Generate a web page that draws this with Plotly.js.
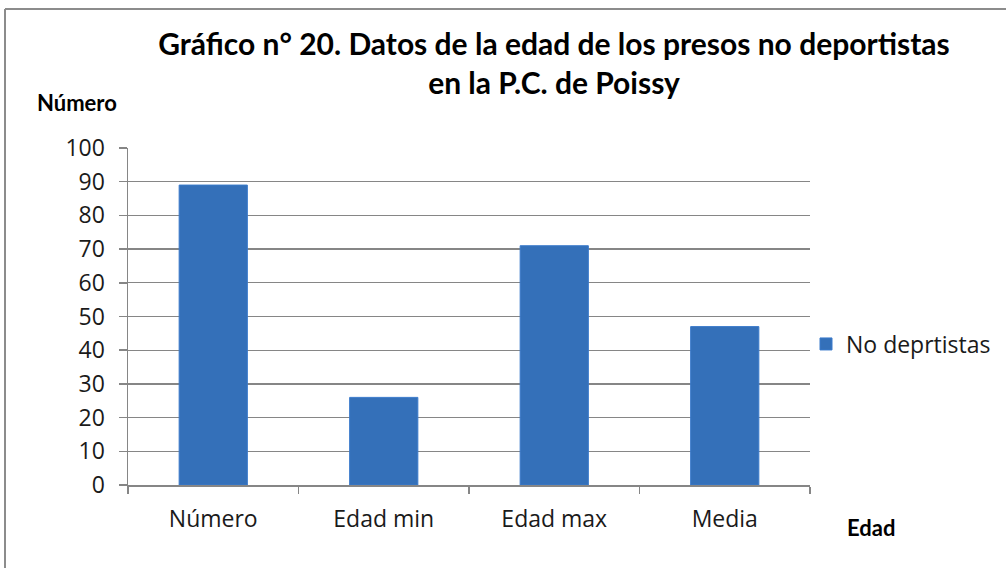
<!DOCTYPE html>
<html>
<head>
<meta charset="utf-8">
<script src="https://cdn.plot.ly/plotly-3.0.1.min.js"></script>
<style>html,body{margin:0;padding:0;background:#fff;}</style>
</head>
<body>
<div id="chart" style="width:1006px;height:568px;"></div>
<script>
const categories = ["Número", "Edad min", "Edad max", "Media"];
const values = [89, 26, 71, 47];
const seriesName = "No deprtistas";
const yTicks = [0, 10, 20, 30, 40, 50, 60, 70, 80, 90, 100];

const L = 128, R = 810, T = 148, B = 485, W = 1006, H = 568;
const pw = R - L, ph = B - T;
const px = x => (x - L) / pw;
const py = y => (B - y) / ph;

const gridCol = "#868686";
const tickFont = {family: "Open Sans, sans-serif", size: 23, color: "#1a1a1a"};

const trace = {
  type: "bar",
  x: categories,
  y: values,
  name: seriesName,
  width: 0.4,
  marker: {color: "#3470b9", line: {color: "#3a7acb", width: 1}},
  showlegend: true
};

const layout = {
  width: W, height: H,
  margin: {l: L, r: W - R, t: T, b: H - B, pad: 0},
  paper_bgcolor: "#ffffff",
  plot_bgcolor: "#ffffff",
  font: tickFont,
  title: {
    text: "Gráfico n° 20. Datos de la edad de los presos no deportistas<br>en la P.C. de Poissy",
    font: {family: "Lato, sans-serif", size: 30, color: "#000", weight: "bold"},
    x: 554 / W, xanchor: "center", xref: "container",
    y: 1 - 55 / H, yanchor: "top", yref: "container"
  },
  xaxis: {
    type: "category",
    showline: true, linecolor: gridCol, linewidth: 1.5,
    ticks: "outside", tickson: "boundaries", ticklen: 7, tickcolor: gridCol, tickwidth: 1.5,
    showgrid: false, zeroline: false,
    tickfont: tickFont,
    ticklabelstandoff: 13
  },
  yaxis: {
    range: [0, 100],
    tickvals: yTicks,
    ticktext: yTicks.map(String),
    showline: true, linecolor: gridCol, linewidth: 1.5,
    ticks: "outside", ticklen: 8, tickcolor: gridCol, tickwidth: 1.5,
    showgrid: true, gridcolor: gridCol, gridwidth: 1.3,
    zeroline: false,
    tickfont: tickFont,
    ticklabelstandoff: 9,
    automargin: false
  },
  legend: {
    xref: "container", yref: "container",
    x: 816 / W, y: 1 - 344 / H, xanchor: "left", yanchor: "middle",
    font: tickFont, bgcolor: "rgba(0,0,0,0)",
    itemwidth: 30, tracegroupgap: 0, indentation: -10
  },
  annotations: [
    {text: "Número", xref: "paper", yref: "paper", x: px(35), y: py(103),
     xanchor: "left", yanchor: "middle", showarrow: false,
     font: {family: "Lato, sans-serif", size: 22, color: "#000", weight: "bold"}},
    {text: "Edad", xref: "paper", yref: "paper", x: px(871), y: py(527),
     xanchor: "center", yanchor: "middle", showarrow: false,
     font: {family: "Lato, sans-serif", size: 22, color: "#000", weight: "bold"}}
  ],
  shapes: [
    {type: "line", xref: "paper", yref: "paper", x0: px(5), x1: px(5), y0: py(9), y1: py(600),
     line: {color: "#8c8c8c", width: 2}},
    {type: "line", xref: "paper", yref: "paper", x0: px(5), x1: px(1100), y0: py(9), y1: py(9),
     line: {color: "#8c8c8c", width: 2}}
  ],
  bargap: 0.6
};

Plotly.newPlot("chart", [trace], layout, {displayModeBar: false, staticPlot: true});
</script>
</body>
</html>
